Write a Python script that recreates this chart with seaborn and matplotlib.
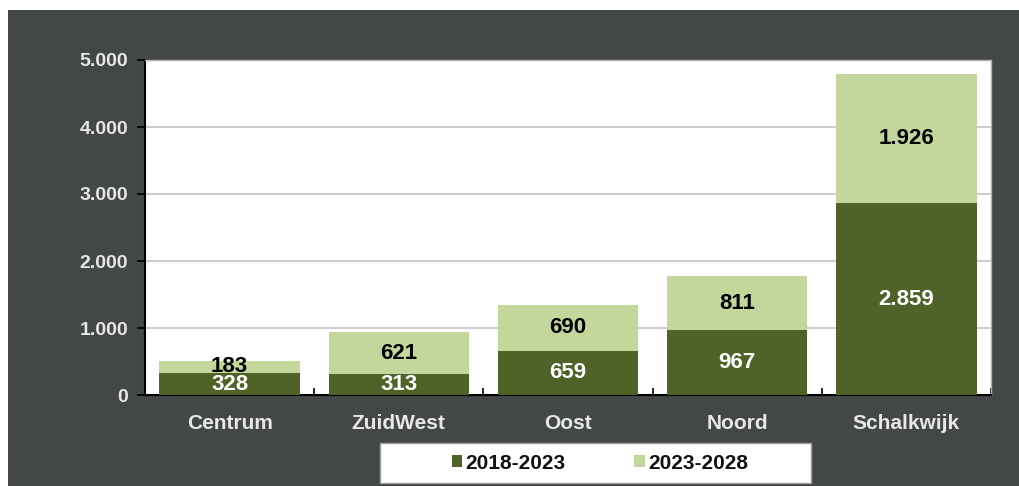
import matplotlib
matplotlib.use("Agg")
import matplotlib.pyplot as plt
from matplotlib.patches import Rectangle, Patch
from matplotlib.ticker import FuncFormatter, FixedLocator
import seaborn as sns
import pandas as pd

categories = ["Centrum", "ZuidWest", "Oost", "Noord", "Schalkwijk"]
period1 = [328, 313, 659, 967, 2859]
period2 = [183, 621, 690, 811, 1926]
series_names = ["2018-2023", "2023-2028"]
yticks = [0, 1000, 2000, 3000, 4000, 5000]

dark = "#4f6228"
light = "#c3d69b"
bg = "#434747"

def nl(v):
    return f"{v:,.0f}".replace(",", ".")

df = pd.DataFrame({"cat": categories, "p1": period1, "p2": period2})
df["total"] = df["p1"] + df["p2"]

sns.set_theme(style="white")
plt.rcParams["font.family"] = ["Liberation Sans", "DejaVu Sans"]

fig = plt.figure(figsize=(10.2, 4.86), dpi=100)
fig.patch.set_facecolor("white")
fig.patches.append(Rectangle((8 / 1020, 0), 1 - 8 / 1020, 1 - 10 / 486,
                             transform=fig.transFigure, facecolor=bg,
                             edgecolor="none", zorder=-10))
ax = fig.add_axes([145 / 1020, 1 - 395 / 486, 846 / 1020, 335 / 486])
ax.set_zorder(2)
ax.set_facecolor("white")

sns.barplot(data=df, x="cat", y="total", color=light, width=0.83,
            saturation=1, ax=ax, zorder=3, errorbar=None, linewidth=0)
sns.barplot(data=df, x="cat", y="p1", color=dark, width=0.83,
            saturation=1, ax=ax, zorder=4, errorbar=None, linewidth=0)

# labels
dark_cont = ax.containers[1]
ax.bar_label(dark_cont, labels=[nl(v) for v in period1], label_type="center",
             color="white", fontsize=16, fontweight="bold", zorder=6)
for i, (a, b) in enumerate(zip(period1, period2)):
    ax.text(i, a + b / 2, nl(b), ha="center", va="center", color="black",
            fontsize=16, fontweight="bold", zorder=6)

ax.set_ylim(0, 5000)
ax.set_xlim(-0.5, 4.5)
ax.yaxis.set_major_locator(FixedLocator(yticks))
ax.yaxis.set_major_formatter(FuncFormatter(lambda v, p: nl(v)))
ax.grid(axis="y", color="#c8c8c8", linewidth=1.3, zorder=0)
ax.set_axisbelow(True)
ax.set_xlabel("")
ax.set_ylabel("")

for s in ["left", "bottom"]:
    ax.spines[s].set_color("black")
    ax.spines[s].set_linewidth(1.5)
for s in ["top", "right"]:
    ax.spines[s].set_color("#b0b0b0")
    ax.spines[s].set_linewidth(1.0)

ax.tick_params(axis="y", direction="out", length=6, width=1.2, color="black",
               labelcolor="#e8e8e8", labelsize=14, pad=6, left=True)
for t in ax.get_yticklabels():
    t.set_fontweight("bold")

ax.set_xticks(range(len(categories)))
ax.set_xticklabels(categories, fontsize=15, fontweight="bold", color="#e8e8e8")
ax.tick_params(axis="x", which="major", length=0, pad=14)
ax.set_xticks([-0.5 + i for i in range(1, len(categories) + 1)], minor=True)
ax.tick_params(axis="x", which="minor", direction="in", length=5, width=1.2,
               color="black", bottom=True)

# legend box
fig.patches.append(Rectangle((380 / 1020, 1 - 483 / 486), 431 / 1020, 40 / 486,
                             transform=fig.transFigure, facecolor="white",
                             edgecolor="#a0a0a0", linewidth=1, zorder=1))
handles = [Patch(facecolor=dark, edgecolor="none"),
           Patch(facecolor=light, edgecolor="none")]
leg = fig.legend(handles, series_names, loc="center",
                 bbox_to_anchor=(600 / 1020, 1 - 463 / 486), ncol=2,
                 frameon=False, handlelength=0.5,
                 handleheight=0.5, handletextpad=0.15, columnspacing=3.3,
                 prop={"weight": "bold", "size": 15})
leg.set_zorder(5)
for t in leg.get_texts():
    t.set_color("#111111")

fig.savefig("out.png", dpi=100, facecolor=fig.get_facecolor())
